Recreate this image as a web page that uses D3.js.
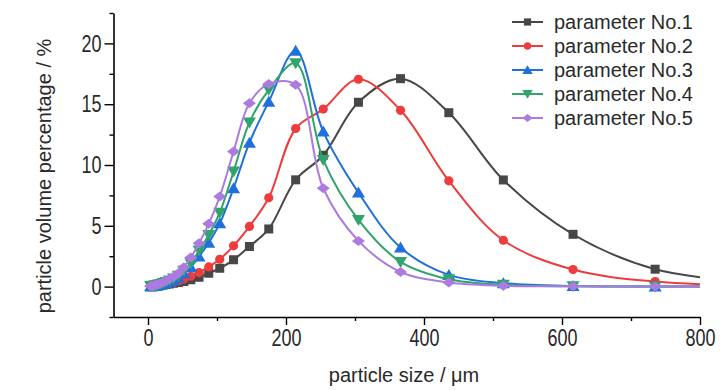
<!DOCTYPE html>
<html>
<head>
<meta charset="utf-8">
<script src="https://cdn.jsdelivr.net/npm/d3@7"></script>
<style>
  html, body { margin: 0; padding: 0; background: #fff; }
  svg { display: block; font-family: "Liberation Sans", Arial, sans-serif; }
</style>
</head>
<body>
<svg id="chart" width="728" height="390"></svg>
<script>
// ---- data ----
const sizes = [3.9, 4.6, 5.5, 6.5, 7.7, 9.2, 11, 13, 15.5, 18.5, 22, 26, 31, 37, 44,
               52, 62, 74, 88, 104, 124, 147, 175, 214, 254, 305, 366, 436, 515, 616, 735, 875];
const seriesNames = ["parameter No.1", "parameter No.2", "parameter No.3", "parameter No.4", "parameter No.5"];
const param1 = [0.01,0.01,0.02,0.02,0.03,0.04,0.05,0.06,0.08,0.1,0.13,0.17,0.22,0.28,0.34,
                0.42,0.57,0.77,1.1,1.5,2.2,3.3,4.74,8.78,10.8,15.16,17.1,14.3,8.77,4.3,1.43,0.35];
const param2 = [0.01,0.02,0.02,0.03,0.04,0.05,0.06,0.08,0.1,0.13,0.17,0.22,0.29,0.37,0.47,
                0.62,0.85,1.15,1.62,2.25,3.35,4.95,7.3,13.0,14.6,17.05,14.5,8.7,3.81,1.4,0.41,0.1];
const param3 = [0.02,0.02,0.03,0.04,0.05,0.06,0.08,0.1,0.13,0.17,0.22,0.3,0.4,0.55,0.75,
                1.1,1.6,2.47,3.6,5.2,8.09,11.84,15.2,19.4,12.75,7.73,3.21,0.96,0.28,0.05,0.01,0];
const param4 = [0.02,0.03,0.04,0.05,0.06,0.08,0.1,0.13,0.17,0.22,0.29,0.38,0.5,0.66,0.9,
                1.3,1.92,2.96,4.25,6.08,9.46,13.5,16.18,18.37,10.42,5.48,2.03,0.6,0.15,0.02,0,0];
const param5 = [0.03,0.04,0.05,0.06,0.08,0.1,0.13,0.17,0.22,0.28,0.36,0.47,0.62,0.82,1.1,
                1.6,2.39,3.57,5.16,7.4,11.1,15.08,16.67,16.6,8.09,3.76,1.21,0.33,0.07,0.02,0,0];
const xTicks = [0, 200, 400, 600, 800];
const xMinorTicks = [100, 300, 500, 700];
const yTicks = [0, 5, 10, 15, 20];
const yMinorTicks = [-2.5, 2.5, 7.5, 12.5, 17.5, 22.5];

// ---- styling ----
const colors = ["#474747", "#ee3b3b", "#1f6fdd", "#30a46a", "#ab7be0"];
const markers = [
  "M-4.5,-4.5h9v9h-9Z",
  "M-4.6,0a4.6,4.6 0 1,0 9.2,0a4.6,4.6 0 1,0 -9.2,0Z",
  "M0,-6L6.5,5L-6.5,5Z",
  "M0,6L6.5,-5L-6.5,-5Z",
  "M0,-5L6.5,0L0,5L-6.5,0Z"
];
const seriesValues = [param1, param2, param3, param4, param5];

const svg = d3.select("#chart");
svg.append("rect").attr("width", 728).attr("height", 390).attr("fill", "#fff");

const x = d3.scaleLinear().domain([-50, 800]).range([113.5, 700]);
const y = d3.scaleLinear().domain([-2.5, 22.5]).range([317, 13]);

// clip to plot area
svg.append("defs").append("clipPath").attr("id", "plotclip")
  .append("rect").attr("x", x(-50)).attr("y", 0).attr("width", x(800) - x(-50)).attr("height", 390);

const plot = svg.append("g").attr("clip-path", "url(#plotclip)");
const line = d3.line().x(d => x(d[0])).y(d => y(d[1])).curve(d3.curveCatmullRom.alpha(0.5));

seriesValues.forEach((vals, i) => {
  const pts = sizes.map((s, k) => [s, vals[k]]);
  plot.append("path").datum(pts)
    .attr("d", line).attr("fill", "none")
    .attr("stroke", colors[i]).attr("stroke-width", 2);
  plot.selectAll(null).data(pts).enter().append("path")
    .attr("d", markers[i])
    .attr("transform", d => `translate(${x(d[0])},${y(d[1])})`)
    .attr("fill", colors[i]);
});

// ---- axes ----
const TS = 0.75; // horizontal squeeze of tick labels
const xAxis = svg.append("g").attr("transform", `translate(0,${y(-2.5)})`)
  .call(d3.axisBottom(x).tickValues(xTicks).tickSize(8).tickSizeOuter(0).tickPadding(4));
const xMinor = svg.append("g").attr("transform", `translate(0,${y(-2.5)})`)
  .call(d3.axisBottom(x).tickValues(xMinorTicks).tickSize(4).tickFormat(""));
xMinor.select(".domain").remove();
const yAxis = svg.append("g").attr("transform", `translate(${x(-50)},0)`)
  .call(d3.axisLeft(y).tickValues(yTicks).tickSize(9).tickSizeOuter(0).tickPadding(4));
const yMinor = svg.append("g").attr("transform", `translate(${x(-50)},0)`)
  .call(d3.axisLeft(y).tickValues(yMinorTicks).tickSize(4).tickFormat(""));
yMinor.select(".domain").remove();

[xAxis, xMinor, yAxis, yMinor].forEach(g => {
  g.select(".domain").attr("stroke", "#000").attr("stroke-width", 1.6);
  g.selectAll(".tick line").attr("stroke", "#000").attr("stroke-width", 1.4);
});
xAxis.selectAll(".tick text")
  .attr("font-size", 24).attr("fill", "#2a2a2a")
  .attr("font-family", "Liberation Sans, Arial, sans-serif")
  .attr("y", 12).attr("dy", "0.71em")
  .attr("transform", `scale(${TS},1)`);
yAxis.selectAll(".tick text")
  .attr("font-size", 24).attr("fill", "#2a2a2a")
  .attr("font-family", "Liberation Sans, Arial, sans-serif")
  .attr("x", -12 / TS)
  .attr("transform", `scale(${TS},1)`);

// axis titles
svg.append("text").attr("x", 404).attr("y", 382).attr("text-anchor", "middle")
  .attr("font-size", 20).attr("fill", "#2a2a2a").text("particle size / μm");
svg.append("text").attr("transform", "translate(51,176) rotate(-90)").attr("text-anchor", "middle")
  .attr("font-size", 20).attr("fill", "#2a2a2a").text("particle volume percentage / %");

// ---- legend ----
const legend = svg.append("g");
seriesNames.forEach((name, i) => {
  const ly = 22 + i * 24;
  legend.append("line").attr("x1", 512).attr("x2", 543).attr("y1", ly).attr("y2", ly)
    .attr("stroke", colors[i]).attr("stroke-width", 2);
  legend.append("path").attr("d", markers[i]).attr("transform", `translate(527.5,${ly}) scale(0.8)`)
    .attr("fill", colors[i]);
  legend.append("text").attr("x", 554).attr("y", ly).attr("dy", "0.35em")
    .attr("font-size", 20).attr("fill", "#2a2a2a").text(name);
});
</script>
</body>
</html>
